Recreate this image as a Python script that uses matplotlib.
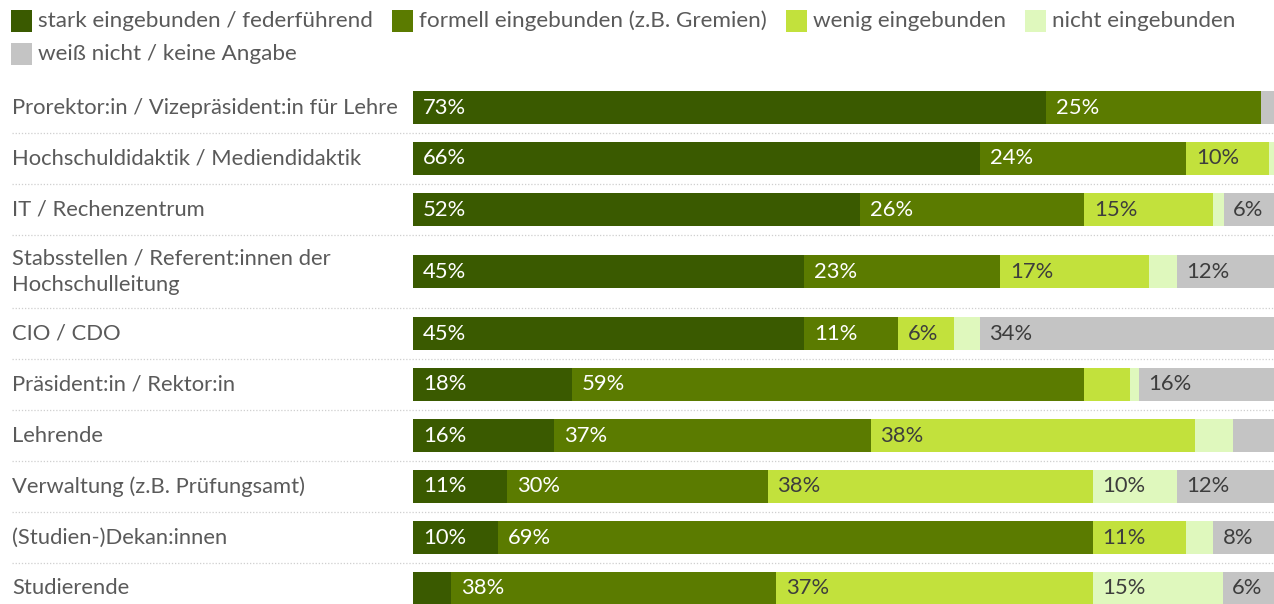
import matplotlib
matplotlib.use("Agg")
import matplotlib.pyplot as plt
from matplotlib.transforms import blended_transform_factory
from matplotlib.patches import Rectangle

plt.rcParams['font.family'] = ['Lato', 'DejaVu Sans']

# ---------------- data ----------------
categories = [
    "Prorektor:in / Vizepräsident:in für Lehre",
    "Hochschuldidaktik / Mediendidaktik",
    "IT / Rechenzentrum",
    "Stabsstellen / Referent:innen der\nHochschulleitung",
    "CIO / CDO",
    "Präsident:in / Rektor:in",
    "Lehrende",
    "Verwaltung (z.B. Prüfungsamt)",
    "(Studien-)Dekan:innen",
    "Studierende",
]
series_names = [
    "stark eingebunden / federführend",
    "formell eingebunden (z.B. Gremien)",
    "wenig eingebunden",
    "nicht eingebunden",
    "weiß nicht / keine Angabe",
]
stark   = [73.2, 65.6, 51.7, 45.2, 45.2, 18.4, 16.3, 10.9,  9.8,  4.4]
formell = [24.8, 23.8, 25.9, 22.7, 10.9, 59.2, 36.6, 30.1, 68.8, 37.6]
wenig   = [ 0.0,  9.6, 14.9, 17.2,  6.4,  5.3, 37.5, 37.6, 10.8, 36.6]
nicht   = [ 0.0,  1.0,  1.2,  3.2,  3.0,  1.0,  4.4,  9.7,  3.1, 15.0]
weiss   = [ 2.0,  0.0,  6.0, 12.0, 34.0, 16.0,  5.2, 12.0,  8.0,  6.0]

colors = ["#3a5a00", "#5b7b00", "#c2e13c", "#dff8bd", "#c4c4c4"]
text_colors = ["#ffffff", "#ffffff", "#3d3d3d", "#3d3d3d", "#3d3d3d"]
series = [stark, formell, wenig, nicht, weiss]

# ---------------- layout (pixels) ----------------
W, H = 1274, 604
fig = plt.figure(figsize=(W / 100, H / 100), dpi=100)
fig.patch.set_facecolor("white")

ax_left, ax_right = 413, 1278
ax_top, ax_bottom = 82, 604
ax = fig.add_axes([ax_left / W, 1 - ax_bottom / H, (ax_right - ax_left) / W, (ax_bottom - ax_top) / H])
ax.set_xlim(0, 100)
ax.set_ylim(ax_bottom - ax_top, 0)
ax.axis("off")

row_base, row_extra, bar_h = 51, 22, 33
tops = []
y = 0
for c in categories:
    tops.append(y)
    y += row_base + row_extra * c.count("\n")
heights = [(tops[i + 1] if i + 1 < len(tops) else y) - tops[i] for i in range(len(tops))]
centers = [t + h / 2 for t, h in zip(tops, heights)]

FS = 15.8
label_color = "#5a5a5a"
trans_lab = blended_transform_factory(fig.transFigure, ax.transData)

for i, cat in enumerate(categories):
    left = 0
    for s, vals in enumerate(series):
        v = vals[i]
        if v > 0:
            ax.barh(centers[i], v, left=left, height=bar_h, color=colors[s], linewidth=0)
            if v >= 5.8:
                ax.annotate(f"{round(v)}%", xy=(left, centers[i]), xytext=(7, 0),
                            textcoords="offset points", ha="left", va="center",
                            fontsize=FS, color=text_colors[s])
        left += v
    ax.text(12 / W, centers[i], cat, transform=trans_lab, ha="left", va="center",
            fontsize=FS, color=label_color, linespacing=1.4)

# dotted separators
for i in range(len(categories) - 1):
    yy = tops[i + 1]
    ax.plot([12 / W, 1.0], [yy, yy], transform=trans_lab, clip_on=False,
            color="#cfcfcf", linewidth=0.9, linestyle=(0, (1, 1.5)))

# ---------------- legend (manual, row-major) ----------------
fig.canvas.draw()
renderer = fig.canvas.get_renderer()
sq = 21
rows_items = [[0, 1, 2, 3], [4]]
row_y = [21, 54]
for items, yc in zip(rows_items, row_y):
    x = 11
    for s in items:
        fig.patches.append(Rectangle((x / W, 1 - (yc + sq / 2) / H), sq / W, sq / H,
                                     transform=fig.transFigure, color=colors[s], linewidth=0))
        t = fig.text((x + sq + 6) / W, 1 - yc / H, series_names[s], ha="left", va="center",
                     fontsize=16.2, color=label_color)
        bb = t.get_window_extent(renderer)
        x = bb.x1 + 19

fig.savefig("out.png", dpi=100, facecolor="white")
